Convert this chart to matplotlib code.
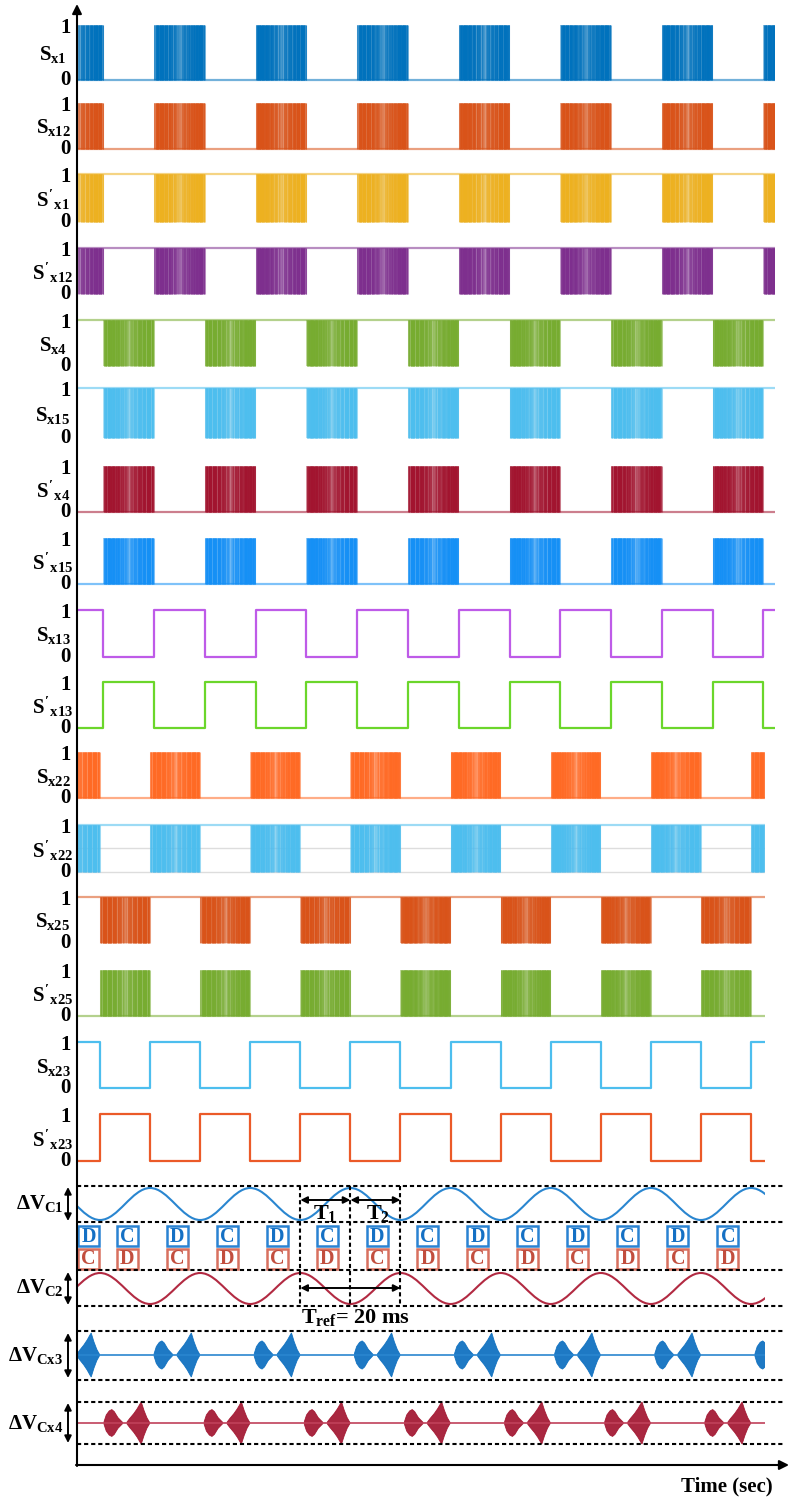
import numpy as np
import matplotlib.pyplot as plt
from matplotlib.colors import to_rgba
from matplotlib.patches import Rectangle, Polygon, PathPatch
from matplotlib.path import Path

plt.rcParams['font.family'] = ['Liberation Serif', 'DejaVu Serif']
plt.rcParams['font.weight'] = 'bold'
plt.rcParams['mathtext.fontset'] = 'custom'
plt.rcParams['mathtext.rm'] = 'Liberation Serif:bold'
plt.rcParams['mathtext.bf'] = 'Liberation Serif:bold'
plt.rcParams['mathtext.it'] = 'Liberation Serif:bold'

W, H = 789, 1500

# switching instants of the 50 Hz fundamental (ms)
edges = [5, 15, 25, 35, 45, 55, 65, 75, 85, 95, 105, 115, 125, 135]
# start of each 10 ms PWM burst
burst_a = [-5, 15, 35, 55, 75, 95, 115, 135]
burst_b = [5, 25, 45, 65, 85, 105, 125]
burst_len = 10

# upper group of gate signals
top_names = [r"$S_{x1}$", r"$S_{x12}$", r"$S'_{x1}$", r"$S'_{x12}$",
             r"$S_{x4}$", r"$S_{x15}$", r"$S'_{x4}$", r"$S'_{x15}$",
             r"$S_{x13}$", r"$S'_{x13}$"]
top_colors = ['#0072BD', '#D95319', '#EDB120', '#7E2F8E', '#77AC30',
              '#4DBEEE', '#A2142F', '#1590F5', '#BE5BE8', '#6BD62B']
top_kind = ['a', 'a', 'a', 'a', 'b', 'b', 'b', 'b', 'sq', 'sq']
top_level = [0, 0, 1, 1, 1, 1, 0, 0, 1, 0]
top_y1 = [25, 103, 174, 248, 320, 388, 466, 538, 610, 682]
top_y0 = [80, 149, 222, 294, 366, 438, 512, 584, 657, 728]

# lower group of gate signals
bot_names = [r"$S_{x22}$", r"$S'_{x22}$", r"$S_{x25}$", r"$S'_{x25}$",
             r"$S_{x23}$", r"$S'_{x23}$"]
bot_colors = ['#FF6A24', '#4DBEEE', '#D95319', '#77AC30', '#4DBEEE', '#EB5A28']
bot_kind = ['a', 'a', 'b', 'b', 'sq', 'sq']
bot_level = [0, 1, 1, 0, 1, 0]
bot_y1 = [752, 825, 897, 970, 1042, 1114]
bot_y0 = [798, 872, 943, 1016, 1088, 1161]

# capacitor voltage ripple extremes (ms, normalised)
c1_peak_t = [-5, 5, 15, 25, 35, 45, 55, 65, 75, 85, 95, 105, 115, 125, 135, 145]
c1_peak_v = [1, -1, 1, -1, 1, -1, 1, -1, 1, -1, 1, -1, 1, -1, 1, -1]
c2_peak_v = [-1, 1, -1, 1, -1, 1, -1, 1, -1, 1, -1, 1, -1, 1, -1, 1]

# charge / discharge states of C1 (top) and C2 (bottom)
box_t = [2.7, 10.4, 20.4, 30.4, 40.4, 50.4, 60.4, 70.4, 80.4, 90.4,
         100.4, 110.4, 120.4, 130.4]
box_c1 = ['D', 'C', 'D', 'C', 'D', 'C', 'D', 'C', 'D', 'C', 'D', 'C', 'D', 'C']
box_c2 = ['C', 'D', 'C', 'D', 'C', 'D', 'C', 'D', 'C', 'D', 'C', 'D', 'C', 'D']

# flying capacitor ripple bursts: start times (ms)
cx3_big = [0.4, 20.4, 40.4, 60.4, 80.4, 100.4, 120.4]
cx3_small = [15.8, 35.8, 55.8, 75.8, 95.8, 115.8, 135.8]
cx4_small = [5.8, 25.8, 45.8, 65.8, 85.8, 105.8, 125.8]
cx4_big = [10.4, 30.4, 50.4, 70.4, 90.4, 110.4, 130.4]
big_len, small_len = 4.5, 3.7
big_amp, small_amp = 1.0, 0.64
big_shape_x = [0, 0.12, 0.3, 0.45, 0.58, 0.63, 0.75, 0.88, 1.0]
big_shape_y = [0.05, 0.22, 0.45, 0.68, 0.92, 1.0, 0.6, 0.25, 0.03]
small_shape_x = [0, 0.12, 0.28, 0.42, 0.55, 0.75, 1.0]
small_shape_y = [0.1, 0.6, 0.9, 1.0, 0.85, 0.4, 0.05]

# shading across one PWM burst
shade_pos = [0, 0.04, 0.12, 0.3, 0.45, 0.5, 0.55, 0.7, 0.88, 0.96, 1.0]
shade_val = [0.55, 0.95, 1.0, 0.85, 0.6, 0.25, 0.6, 0.8, 1.0, 0.95, 0.55]
texture = [1.0, 0.8, 0.95, 0.65, 1.0, 0.85, 0.75, 1.0, 0.9]

fig = plt.figure(figsize=(W / 100, H / 100), dpi=100)


def px_axes(left, right):
    ax = fig.add_axes([left / W, 0, (right - left) / W, 1])
    ax.set_ylim(H, 0)
    ax.axis('off')
    ax.patch.set_alpha(0)
    return ax


ax_top = px_axes(78, 775)
ax_top.set_xlim(0, 137.3)
ax_bot = px_axes(77, 765)
ax_bot.set_xlim(0.4, 137.8)
ax_fr = px_axes(0, W)
ax_fr.set_xlim(0, W)


def pwm_block(ax, t0, y1, y0, color):
    n = 90
    frac = (np.arange(n) + 0.5) / n
    alpha = np.interp(frac, shade_pos, shade_val) * np.resize(texture, n)
    rgba = np.tile(to_rgba(color), (n, 1))
    rgba[:, 3] = alpha
    ax.add_patch(Rectangle((t0, y1), burst_len, y0 - y1, fc=color, alpha=0.45, lw=0))
    ax.vlines(t0 + frac * burst_len, y1, y0, colors=rgba, lw=0.75)


def draw_rows(ax, kinds, levels, y1s, y0s, colors):
    t_lo, t_hi = ax.get_xlim()
    for kind, lev, y1, y0, col in zip(kinds, levels, y1s, y0s, colors):
        if kind == 'sq':
            st = [t_lo] + edges + [t_hi]
            vals = [(lev + i) % 2 for i in range(len(edges) + 1)]
            vals = vals + [vals[-1]]
            ys = [y0 + v * (y1 - y0) for v in vals]
            ax.step(st, ys, where='post', color=col, lw=1.6)
        else:
            ax.plot([t_lo, t_hi], [y0 + lev * (y1 - y0)] * 2, color=col, lw=1.6, alpha=0.55)
            for t0 in (burst_a if kind == 'a' else burst_b):
                pwm_block(ax, t0, y1, y0, col)


draw_rows(ax_top, top_kind, top_level, top_y1, top_y0, top_colors)
# faint grid lines inside S'x22
ax_bot.plot([0.4, 137.8], [848, 848], color='#dddddd', lw=1, zorder=0)
ax_bot.plot([0.4, 137.8], [872, 872], color='#dddddd', lw=1, zorder=0)
draw_rows(ax_bot, bot_kind, bot_level, bot_y1, bot_y0, bot_colors)


def ripple(ax, peaks_t, peaks_v, mid, amp, color):
    k = 0.36
    verts = [(peaks_t[0], mid - amp * peaks_v[0])]
    codes = [Path.MOVETO]
    for i in range(len(peaks_t) - 1):
        t0, t1 = peaks_t[i], peaks_t[i + 1]
        v0, v1 = mid - amp * peaks_v[i], mid - amp * peaks_v[i + 1]
        d = t1 - t0
        verts += [(t0 + k * d, v0), (t1 - k * d, v1), (t1, v1)]
        codes += [Path.CURVE4] * 3
    ax.add_patch(PathPatch(Path(verts, codes), fc='none', ec=color, lw=1.5))


ripple(ax_bot, c1_peak_t, c1_peak_v, 1204, 16, '#2A86D0')
ripple(ax_bot, c1_peak_t, c2_peak_v, 1288.5, 15.5, '#B22A42')

# charge / discharge boxes
for t, s1, s2 in zip(box_t, box_c1, box_c2):
    ax_bot.add_patch(Rectangle((t - 2.1, 1226), 4.2, 19.5, fc='white',
                               ec='#2A83D2', lw=1.8, clip_on=False))
    ax_bot.text(t, 1236.5, s1, color='#1470C4', fontsize=14.5, ha='center',
                va='center', fontweight='bold')
    ax_bot.add_patch(Rectangle((t - 2.1, 1248.5), 4.2, 20, fc='white',
                               ec='#D8705F', lw=1.8, clip_on=False))
    ax_bot.text(t, 1259.5, s2, color='#C24E3E', fontsize=14.5, ha='center',
                va='center', fontweight='bold')


def bursts(ax, starts, length, amp, sx, sy, mid, h, color):
    for t0 in starts:
        xs = t0 + np.array(sx) * length
        ys = np.array(sy) * amp * h
        pts = list(zip(xs, mid - ys)) + list(zip(xs[::-1], (mid + ys)[::-1]))
        ax.add_patch(Polygon(pts, closed=True, fc=color, ec=color, lw=0.6, alpha=0.92))


ax_bot.plot([0.4, 137.8], [1355, 1355], color='#2A86D0', lw=1.2)
bursts(ax_bot, cx3_big, big_len, big_amp, big_shape_x, big_shape_y, 1355, 22, '#0B6EBF')
bursts(ax_bot, cx3_small, small_len, small_amp, small_shape_x, small_shape_y, 1355, 22, '#0B6EBF')
ax_bot.plot([0.4, 137.8], [1423, 1423], color='#C0415A', lw=1.2)
bursts(ax_bot, cx4_big, big_len, big_amp, big_shape_x, big_shape_y, 1423, 21, '#A2142F')
bursts(ax_bot, cx4_small, small_len, small_amp, small_shape_x, small_shape_y, 1423, 21, '#A2142F')

# time markers
dash = (0, (2, 1.4))
for t in [45, 55, 65]:
    ax_bot.plot([t, t], [1186, 1306], color='k', lw=1.5, ls=dash, clip_on=False)
arr = dict(arrowstyle='<|-|>', color='k', lw=1.4, mutation_scale=10, shrinkA=0, shrinkB=0)
ax_bot.annotate('', xy=(45, 1200), xytext=(55, 1200), arrowprops=arr)
ax_bot.annotate('', xy=(55, 1200), xytext=(65, 1200), arrowprops=arr)
ax_bot.annotate('', xy=(45, 1288), xytext=(65, 1288), arrowprops=arr)
ax_bot.text(50, 1213, r'$T_1$', fontsize=16, ha='center', va='center')
ax_bot.text(60.5, 1213, r'$T_2$', fontsize=16, ha='center', va='center')
ax_bot.text(56, 1318, r'$T_{ref}$= 20 ms', fontsize=16, ha='center', va='center')

# horizontal guide lines
for y in [1186, 1222, 1270, 1306, 1331, 1380, 1402, 1444]:
    ax_fr.plot([77, 785], [y, y], color='k', lw=1.5, ls=dash)

# axes with arrow heads
ax_fr.annotate('', xy=(77, 4), xytext=(77, 1466),
               arrowprops=dict(arrowstyle='-|>', color='k', lw=1.5, mutation_scale=14,
                               shrinkA=0, shrinkB=0))
ax_fr.annotate('', xy=(789, 1465), xytext=(76, 1465),
               arrowprops=dict(arrowstyle='-|>', color='k', lw=1.5, mutation_scale=14,
                               shrinkA=0, shrinkB=0))
ax_fr.text(727, 1486, 'Time (sec)', fontsize=15, ha='center', va='center')

# row labels
for names, y1s, y0s in [(top_names, top_y1, top_y0), (bot_names, bot_y1, bot_y0)]:
    for name, y1, y0 in zip(names, y1s, y0s):
        ax_fr.text(71, y1 + 3, '1', fontsize=15, ha='right', va='center')
        ax_fr.text(71, y0, '0', fontsize=15, ha='right', va='center')
        ax_fr.text(53, (y1 + y0) / 2 + 2, name, fontsize=15, ha='center', va='center')

dv_names = [r'$\Delta V_{C1}$', r'$\Delta V_{C2}$', r'$\Delta V_{Cx3}$', r'$\Delta V_{Cx4}$']
dv_y = [1203, 1288, 1355, 1423]
dv_span = [(1187, 1221), (1272, 1305), (1333, 1378), (1403, 1443)]
for name, y, (ya, yb) in zip(dv_names, dv_y, dv_span):
    ax_fr.text(63, y, name, fontsize=15, ha='right', va='center')
    ax_fr.annotate('', xy=(68, ya), xytext=(68, yb), arrowprops=arr)

fig.savefig('out.png', dpi=100)
